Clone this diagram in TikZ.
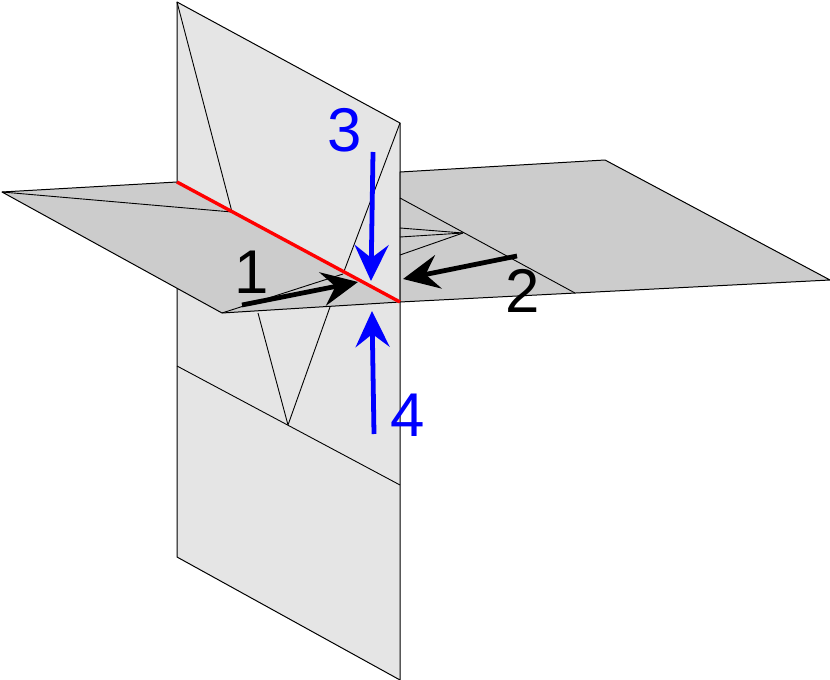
\documentclass[tikz,border=0pt]{standalone}
\usepackage{fontspec}
\setmainfont{Liberation Sans}
\usetikzlibrary{arrows.meta}
\begin{document}
\begin{tikzpicture}[x=1bp,y=-1bp,line join=round]
        \tikzset{vplane/.style={draw=black,fill=black!10,line width=1pt},
                 hplane/.style={draw=black,fill=black!20,line width=1pt},
                 fold/.style={black,line width=0.9pt},
                 push/.style={line width=4.8pt,-{Stealth[length=36bp,width=34bp,inset=13bp]}},
                 lbl/.style={font=\fontsize{62}{62}\selectfont,inner sep=0pt}}
        \useasboundingbox (0,0) rectangle (830,680);
        % corners
        \coordinate (vtl) at (177,2);
        \coordinate (vtr) at (400,123);
        \coordinate (vbl) at (177,557);
        \coordinate (vbr) at (400,680);
        \coordinate (hl) at (2,192);
        \coordinate (hb) at (177,182);
        \coordinate (hf) at (222,313);
        \coordinate (hc) at (400,302);
        \coordinate (rb) at (400,172);
        \coordinate (rbb) at (605,160);
        \coordinate (rr) at (830,280);
        \coordinate (ka) at (232,212);
        \coordinate (kb) at (343,274);
        \coordinate (kc) at (258,313);
        \coordinate (kd) at (330,307);
        \coordinate (ke) at (288,425);
        \coordinate (kf) at (177,366);
        \coordinate (kg) at (400,485);
        \coordinate (ra) at (400,198);
        \coordinate (rc) at (575,293);
        \coordinate (rf) at (463,233);
        % vertical sheet
        \draw [vplane] (vtl) -- (vtr) -- (vbr) -- (vbl) -- cycle;
        \draw [fold] (vtl) -- (ka);
        \draw [fold] (vtr) -- (kb);
        \draw [fold] (kc) -- (ke) -- (kd);
        \draw [fold] (kf) -- (kg);
        % horizontal sheet
        \draw [hplane] (hl) -- (hb) -- (hc) -- (hf) -- cycle;
        \draw [hplane] (rb) -- (rbb) -- (rr) -- (hc) -- cycle;
        \draw [fold] (hl) -- (ka);
        \draw [fold] (hf) -- (kb);
        \draw [fold] (ra) -- (rc);
        \draw [fold] (rf) -- (400,228);
        \draw [fold] (rf) -- (400,237);
        \draw [fold] (rf) -- (400,255);
        \draw [red,line width=3.4pt] (hb) -- (hc);
        % arrows
        \coordinate (a1s) at (242,305);
        \coordinate (a1e) at (358,282);
        \coordinate (a2s) at (517,256);
        \coordinate (a2e) at (403,279);
        \coordinate (a3s) at (373,152);
        \coordinate (a3e) at (371,281);
        \coordinate (a4s) at (374,434);
        \coordinate (a4e) at (372,311);
        \draw [push] (a1s) -- (a1e);
        \draw [push] (a2s) -- (a2e);
        \draw [push,blue] (a3s) -- (a3e);
        \draw [push,blue] (a4s) -- (a4e);
        \node [lbl] (n1) at (252,272) {1};
        \node [lbl] (n2) at (523,291) {2};
        \node [lbl,blue] (n3) at (345,130) {3};
        \node [lbl,blue] (n4) at (408,415) {4};
\end{tikzpicture}
\end{document}
